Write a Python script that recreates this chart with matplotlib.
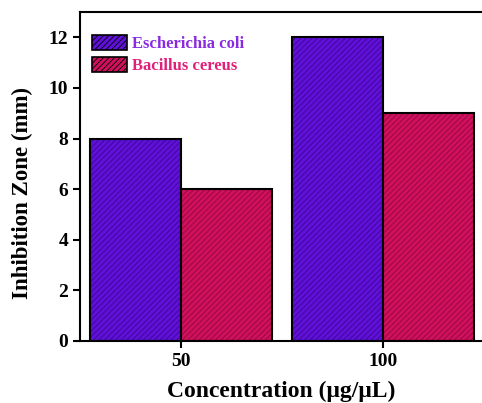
import matplotlib
matplotlib.use("Agg")
import matplotlib.pyplot as plt
from matplotlib.patches import Patch
import numpy as np

concentrations = ["50", "100"]
e_coli = [8, 12]
b_cereus = [6, 9]
series_names = ["Escherichia coli", "Bacillus cereus"]

FACE = ["#6010d8", "#d0105c"]
HATCH = ["#3a0890", "#900840"]
TEXT = ["#8a2be2", "#e0207a"]

plt.rcParams["font.family"] = "Liberation Serif"
plt.rcParams["font.weight"] = "bold"
plt.rcParams["hatch.linewidth"] = 0.6

fig = plt.figure(figsize=(4.82, 4.03), dpi=100)
ax = fig.add_axes([0.166, 0.154, 0.834, 0.816])

x = np.arange(len(concentrations))
w = 0.45
for vals, off, fc, hc in [(e_coli, -w / 2, FACE[0], HATCH[0]), (b_cereus, w / 2, FACE[1], HATCH[1])]:
    ax.bar(x + off, vals, w, color=fc, edgecolor=hc, hatch="//////", lw=0)
    ax.bar(x + off, vals, w, fill=False, edgecolor="black", lw=1.5)

ax.set_xlim(-0.5, 1.49)
ax.set_ylim(0, 13)
ax.set_xticks(x)
ax.set_xticklabels(concentrations)
ax.set_yticks(range(0, 13, 2))
ax.tick_params(direction="out", width=1.5, length=5, labelsize=14)
for s in ax.spines.values():
    s.set_linewidth(1.5)
ax.spines["right"].set_visible(False)
ax.set_ylabel("Inhibition Zone (mm)", fontsize=16.5, fontweight="bold")
ax.yaxis.set_label_coords(-0.117, 0.45)
ax.set_xlabel("Concentration (\u03bcg/\u03bcL)", fontsize=17, fontweight="bold", labelpad=8)

handles = [Patch(facecolor=FACE[i], edgecolor="black", hatch="//////", lw=1.2) for i in range(2)]
leg = ax.legend(handles, series_names, loc="upper left", frameon=False, fontsize=12,
                handlelength=2.1, handleheight=0.95, bbox_to_anchor=(-0.008, 0.975),
                handletextpad=0.3, labelspacing=0.3)
for t, c in zip(leg.get_texts(), TEXT):
    t.set_color(c)

fig.savefig("out.png", dpi=100)
